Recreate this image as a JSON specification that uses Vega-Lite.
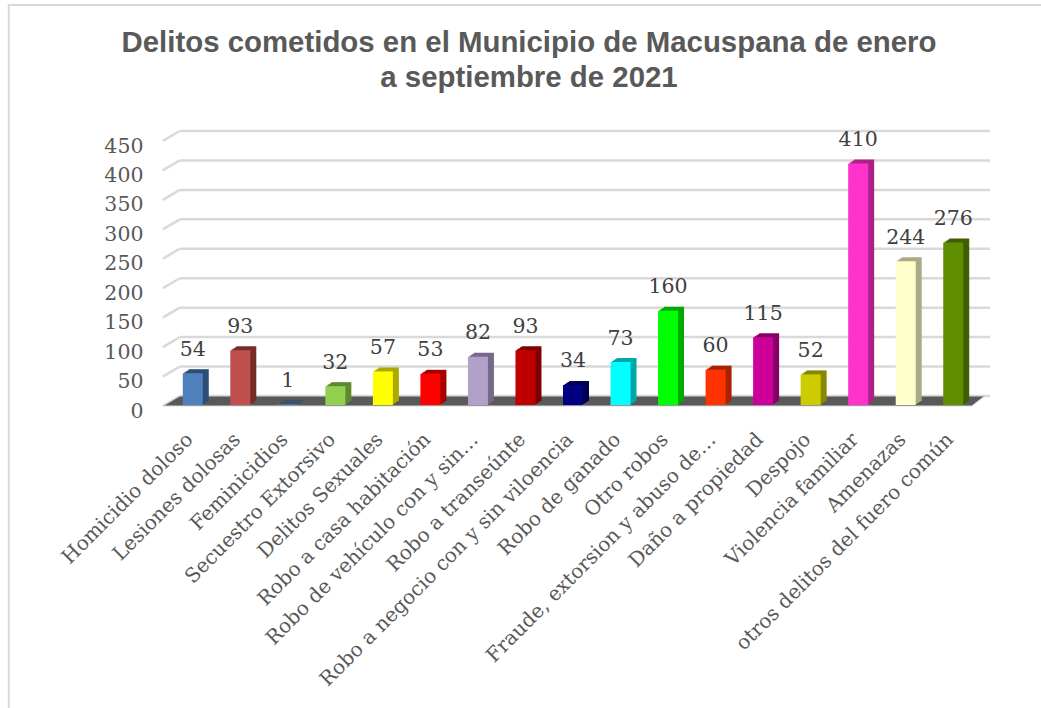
{"$schema":"https://vega.github.io/schema/vega-lite/v6.json","autosize":"none","width":808,"height":265,"padding":{"left":169,"top":140,"right":64,"bottom":303},"background":"white","config":{"view":{"stroke":null},"font":"DejaVu Serif"},"title":{"text":["Delitos cometidos en el Municipio de Macuspana de enero","a septiembre de 2021"],"font":"Liberation Sans","fontSize":29.4,"fontWeight":"bold","color":"#595959","anchor":"middle","dx":-44,"offset":-92,"lineHeight":35},"datasets":{"delitos":[{"delito":"Homicidio doloso","casos":54},{"delito":"Lesiones dolosas","casos":93},{"delito":"Feminicidios","casos":1},{"delito":"Secuestro Extorsivo","casos":32},{"delito":"Delitos Sexuales","casos":57},{"delito":"Robo a casa habitación","casos":53},{"delito":"Robo de vehículo con y sin…","casos":82},{"delito":"Robo a  transeúnte","casos":93},{"delito":"Robo a negocio con y sin viloencia","casos":34},{"delito":"Robo de ganado","casos":73},{"delito":"Otro robos","casos":160},{"delito":"Fraude, extorsion y abuso de…","casos":60},{"delito":"Daño a propiedad","casos":115},{"delito":"Despojo","casos":52},{"delito":"Violencia familiar","casos":410},{"delito":"Amenazas","casos":244},{"delito":"otros delitos del fuero común","casos":276}],"marcas":[{"valor":0},{"valor":50},{"valor":100},{"valor":150},{"valor":200},{"valor":250},{"valor":300},{"valor":350},{"valor":400},{"valor":450}]},"encoding":{"x":{"field":"delito","type":"nominal","sort":null,"scale":{"paddingInner":0,"paddingOuter":0},"axis":{"title":null,"labelAngle":-45,"labelAlign":"right","labelBaseline":"middle","labelFont":"DejaVu Serif","labelFontSize":20,"labelColor":"#595959","labelPadding":31,"labelOffset":-3,"labelLimit":400,"ticks":false,"domain":false,"grid":false}},"y":{"field":"casos","type":"quantitative","scale":{"domain":[0,450],"nice":false},"axis":{"title":null,"values":[0,50,100,150,200,250,300,350,400,450],"labelFont":"DejaVu Serif","labelFontSize":20.5,"labelColor":"#595959","labelPadding":26,"labelOffset":6,"ticks":false,"domain":false,"grid":false}}},"layer":[{"data":{"values":[{"valor":0}]},"mark":{"type":"point","shape":"M-184,310L-184,-400L860,-400","size":4,"stroke":"#D9D9D9","strokeWidth":2,"fill":null,"opacity":1},"encoding":{"x":{"datum":"Homicidio doloso","type":"nominal"},"y":{"field":"valor","type":"quantitative"}}},{"data":{"name":"marcas"},"mark":{"type":"rule","xOffset":11,"x2Offset":11,"yOffset":-9,"y2Offset":-9,"stroke":"#D9D9D9","strokeWidth":2.5},"encoding":{"x":{"value":0},"x2":{"value":810},"y":{"field":"valor","type":"quantitative"}}},{"data":{"name":"marcas"},"mark":{"type":"point","shape":"M-30,1L-13,-9","size":4,"stroke":"#D9D9D9","strokeWidth":2.5,"fill":null,"opacity":1},"encoding":{"x":{"datum":"Homicidio doloso","type":"nominal"},"y":{"field":"valor","type":"quantitative"}}},{"data":{"values":[{"valor":0}]},"mark":{"type":"point","shape":"M-30,1L-13,-9L792,-9L779,1Z","size":4,"filled":true,"fill":"#595959","stroke":"#D9D9D9","strokeWidth":1,"opacity":1},"encoding":{"x":{"datum":"Homicidio doloso","type":"nominal"},"y":{"field":"valor","type":"quantitative"}}},{"data":{"name":"delitos"},"layer":[{"mark":{"type":"bar","width":20,"xOffset":1.5,"x2Offset":1.5,"yOffset":-1,"y2Offset":-1},"encoding":{"color":{"field":"delito","type":"nominal","sort":null,"legend":null,"scale":{"domain":["Homicidio doloso","Lesiones dolosas","Feminicidios","Secuestro Extorsivo","Delitos Sexuales","Robo a casa habitación","Robo de vehículo con y sin…","Robo a  transeúnte","Robo a negocio con y sin viloencia","Robo de ganado","Otro robos","Fraude, extorsion y abuso de…","Daño a propiedad","Despojo","Violencia familiar","Amenazas","otros delitos del fuero común"],"range":["#2C4D75","#772C2A","#2C4D75","#5E8A2E","#AAAA00","#A30000","#75688A","#7F0000","#000050","#00A9A9","#00AA00","#AA2200","#880066","#888800","#AA2288","#AAAA88","#3F5F00"]}}}},{"mark":{"type":"bar","width":20,"xOffset":3,"x2Offset":3,"yOffset":-2,"y2Offset":-2},"encoding":{"color":{"field":"delito","type":"nominal","sort":null,"legend":null,"scale":{"domain":["Homicidio doloso","Lesiones dolosas","Feminicidios","Secuestro Extorsivo","Delitos Sexuales","Robo a casa habitación","Robo de vehículo con y sin…","Robo a  transeúnte","Robo a negocio con y sin viloencia","Robo de ganado","Otro robos","Fraude, extorsion y abuso de…","Daño a propiedad","Despojo","Violencia familiar","Amenazas","otros delitos del fuero común"],"range":["#2C4D75","#772C2A","#2C4D75","#5E8A2E","#AAAA00","#A30000","#75688A","#7F0000","#000050","#00A9A9","#00AA00","#AA2200","#880066","#888800","#AA2288","#AAAA88","#3F5F00"]}}}},{"mark":{"type":"bar","width":20,"xOffset":4.5,"x2Offset":4.5,"yOffset":-3,"y2Offset":-3},"encoding":{"color":{"field":"delito","type":"nominal","sort":null,"legend":null,"scale":{"domain":["Homicidio doloso","Lesiones dolosas","Feminicidios","Secuestro Extorsivo","Delitos Sexuales","Robo a casa habitación","Robo de vehículo con y sin…","Robo a  transeúnte","Robo a negocio con y sin viloencia","Robo de ganado","Otro robos","Fraude, extorsion y abuso de…","Daño a propiedad","Despojo","Violencia familiar","Amenazas","otros delitos del fuero común"],"range":["#2C4D75","#772C2A","#2C4D75","#5E8A2E","#AAAA00","#A30000","#75688A","#7F0000","#000050","#00A9A9","#00AA00","#AA2200","#880066","#888800","#AA2288","#AAAA88","#3F5F00"]}}}},{"mark":{"type":"bar","width":20,"xOffset":6,"x2Offset":6,"yOffset":-4,"y2Offset":-4},"encoding":{"color":{"field":"delito","type":"nominal","sort":null,"legend":null,"scale":{"domain":["Homicidio doloso","Lesiones dolosas","Feminicidios","Secuestro Extorsivo","Delitos Sexuales","Robo a casa habitación","Robo de vehículo con y sin…","Robo a  transeúnte","Robo a negocio con y sin viloencia","Robo de ganado","Otro robos","Fraude, extorsion y abuso de…","Daño a propiedad","Despojo","Violencia familiar","Amenazas","otros delitos del fuero común"],"range":["#2C4D75","#772C2A","#2C4D75","#5E8A2E","#AAAA00","#A30000","#75688A","#7F0000","#000050","#00A9A9","#00AA00","#AA2200","#880066","#888800","#AA2288","#AAAA88","#3F5F00"]}}}},{"mark":{"type":"bar","width":20},"encoding":{"color":{"field":"delito","type":"nominal","sort":null,"legend":null,"scale":{"domain":["Homicidio doloso","Lesiones dolosas","Feminicidios","Secuestro Extorsivo","Delitos Sexuales","Robo a casa habitación","Robo de vehículo con y sin…","Robo a  transeúnte","Robo a negocio con y sin viloencia","Robo de ganado","Otro robos","Fraude, extorsion y abuso de…","Daño a propiedad","Despojo","Violencia familiar","Amenazas","otros delitos del fuero común"],"range":["#4F81BD","#C0504D","#4F81BD","#92D050","#FFFF00","#FF0000","#B1A0C7","#C00000","#000080","#00FFFF","#00FF00","#FF3300","#CC0099","#CCCC00","#FF33CC","#FFFFCC","#5F8F00"]}}}},{"mark":{"type":"text","dy":-23.5,"font":"DejaVu Serif","fontSize":20.5,"color":"#404040"},"encoding":{"text":{"field":"casos","type":"quantitative"}}}],"resolve":{"scale":{"color":"independent"}}}]}
